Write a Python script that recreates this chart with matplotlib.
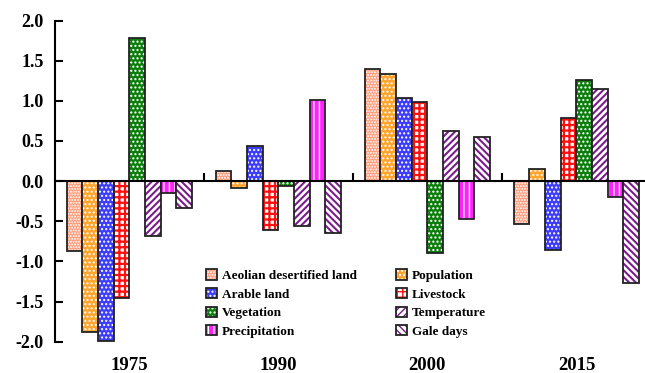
import matplotlib

matplotlib.use("Agg")
import matplotlib.pyplot as plt
import numpy as np
from matplotlib.patches import Patch
from matplotlib.transforms import blended_transform_factory

years = ["1975", "1990", "2000", "2015"]
series = ["Aeolian desertified land", "Population", "Arable land", "Livestock",
          "Vegetation", "Temperature", "Precipitation", "Gale days"]
aeolian = [-0.87, 0.12, 1.39, -0.54]
population = [-1.88, -0.09, 1.34, 0.15]
arable = [-1.99, 0.44, 1.04, -0.86]
livestock = [-1.46, -0.61, 0.98, 0.79]
vegetation = [1.78, -0.06, -0.90, 1.26]
temperature = [-0.68, -0.56, 0.62, 1.15]
precipitation = [-0.15, 1.01, -0.47, -0.20]
gale = [-0.34, -0.65, 0.55, -1.27]
values = [aeolian, population, arable, livestock, vegetation, temperature, precipitation, gale]

# (face colour, hatch colour, hatch, hatch line width)
styles = [
    ("#ff9a78", "white", "......", 1.0),
    ("#ffa52e", "white", "....", 1.0),
    ("#3c3cff", "white", "....", 1.0),
    ("white", "#ff1010", "+++", 1.6),
    ("#0b7d0b", "white", "....", 1.0),
    ("white", "#7b1c8c", "/////", 1.5),
    ("#ff22ff", "white", "|||", 1.0),
    ("white", "#7b1c8c", "\\\\\\\\\\", 1.5),
]

plt.rcParams["font.family"] = ["Liberation Serif", "DejaVu Serif"]
plt.rcParams["font.weight"] = "bold"

fig = plt.figure(figsize=(6.45, 3.73), dpi=100)
ax = fig.add_axes([0.085, 0.084, 0.915, 0.861])

x = np.arange(len(years))
w = 0.105
handles = []
for i, (vals, (fc, hc, hatch, hlw)) in enumerate(zip(values, styles)):
    pos = x + (i - 3.5) * w
    with plt.rc_context({"hatch.linewidth": hlw}):
        ax.bar(pos, vals, w, color=fc, edgecolor=hc, hatch=hatch, linewidth=0)
        hp = Patch(facecolor=fc, edgecolor=hc, hatch=hatch, linewidth=0)
    ax.bar(pos, vals, w, fill=False, edgecolor="#222222", linewidth=1.3)
    handles.append((hp, Patch(fill=False, edgecolor="#222222", linewidth=1.3)))

ax.set_xlim(-0.5, 3.46)
ax.set_ylim(-2.0, 2.0)
ax.set_yticks(np.arange(-2.0, 2.01, 0.5))
ax.set_yticklabels([f"{v:.1f}" for v in np.arange(-2.0, 2.01, 0.5)], fontsize=13)
ax.tick_params(axis="y", direction="in", length=6, width=1.5, pad=8)
for s in ["top", "right"]:
    ax.spines[s].set_visible(False)
ax.spines["left"].set_linewidth(1.5)
ax.spines["bottom"].set_position(("data", 0))
ax.spines["bottom"].set_linewidth(1.5)
ax.set_xticks([0.5, 1.5, 2.5])
ax.set_xticklabels([])
ax.tick_params(axis="x", direction="in", length=6, width=1.5)

tr = blended_transform_factory(ax.transData, ax.transAxes)
for xi, yr in zip(x, years):
    ax.text(xi, -0.075, yr, transform=tr, ha="center", va="center", fontsize=13.5, fontweight="bold")

# legend fills row by row: reorder for matplotlib's column-wise layout
order = [0, 2, 4, 6, 1, 3, 5, 7]
ax.legend([handles[k] for k in order], [series[k] for k in order], ncol=2, frameon=False,
          loc="lower left", bbox_to_anchor=(0.236, -0.025), handlelength=0.8,
          handleheight=0.8, handletextpad=0.4, columnspacing=3.0, labelspacing=0.45,
          prop={"weight": "bold", "size": 9.5})

fig.savefig("out.png", dpi=100)
